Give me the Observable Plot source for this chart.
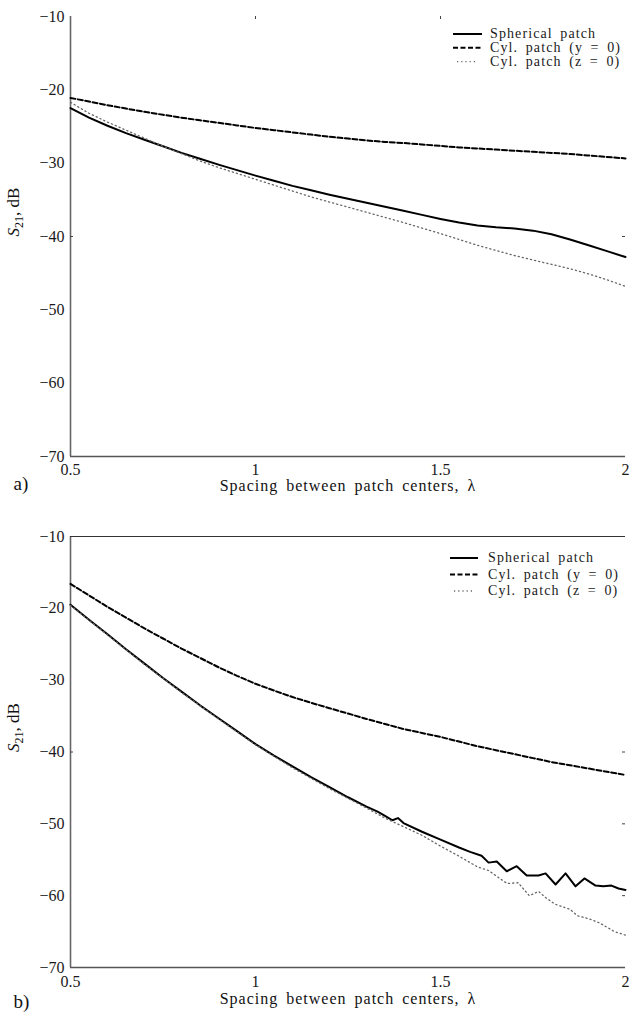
<!DOCTYPE html>
<html><head><meta charset="utf-8">
<script src="https://cdn.jsdelivr.net/npm/d3@7"></script>
<script src="https://cdn.jsdelivr.net/npm/@observablehq/plot@0.6"></script>
<style>
body{margin:0;background:#fff;}
#wrap{position:relative;width:642px;}
.panel{position:relative;width:642px;}
.panel svg.leg{position:absolute;left:0;top:0;pointer-events:none;overflow:visible;}
</style></head><body><div id="wrap"></div>
<script>
// ---- shared text / ticks ----
const xTicks = [0.5, 1, 1.5, 2];
const yTicks = [-70, -60, -50, -40, -30, -20, -10];
const xDomain = [0.5, 2];
const yDomain = [-70, -10];
const seriesNames = ["Spherical patch", "Cyl. patch (y = 0)", "Cyl. patch (z = 0)"];
const xLabel = "Spacing between patch centers, λ";
const yLabel = "S21, dB";
const panelLabels = ["a)", "b)"];

// ---- panel a ----
const aGrid = [0.5,0.55,0.6,0.65,0.7,0.75,0.8,0.85,0.9,0.95,1.0,1.05,1.1,1.15,1.2,1.25,1.3,1.35,1.4,1.45,1.5,1.55,1.6,1.65,1.7,1.75,1.8,1.85,1.9,1.95,2.0];
const aSpherical = [-22.5,-23.8,-24.9,-25.9,-26.8,-27.7,-28.6,-29.4,-30.2,-30.95,-31.7,-32.4,-33.1,-33.7,-34.3,-34.85,-35.4,-35.95,-36.5,-37.05,-37.6,-38.1,-38.5,-38.75,-38.9,-39.2,-39.7,-40.4,-41.2,-42.0,-42.8];
const aCylY = [-21.1,-21.6,-22.1,-22.55,-23.0,-23.4,-23.8,-24.15,-24.5,-24.85,-25.2,-25.5,-25.8,-26.1,-26.4,-26.65,-26.9,-27.1,-27.25,-27.45,-27.65,-27.85,-28.0,-28.15,-28.3,-28.45,-28.6,-28.75,-28.95,-29.15,-29.35];
const aCylZ = [-21.7,-23.2,-24.4,-25.5,-26.6,-27.7,-28.7,-29.7,-30.6,-31.4,-32.2,-33.0,-33.8,-34.6,-35.3,-36.0,-36.7,-37.4,-38.1,-38.85,-39.6,-40.4,-41.2,-41.9,-42.6,-43.2,-43.8,-44.4,-45.1,-45.9,-46.8];

// ---- panel b ----
const bGrid = [0.5,0.55,0.6,0.65,0.7,0.75,0.8,0.85,0.9,0.95,1.0,1.05,1.1,1.15,1.2,1.25,1.3,1.35,1.4,1.45,1.5,1.55,1.6,1.65,1.7,1.75,1.8,1.85,1.9,1.95,2.0];
const bCylY = [-16.6,-18.2,-19.8,-21.3,-22.8,-24.2,-25.6,-26.9,-28.2,-29.4,-30.5,-31.45,-32.35,-33.15,-33.9,-34.65,-35.4,-36.1,-36.8,-37.35,-37.9,-38.55,-39.2,-39.75,-40.3,-40.85,-41.4,-41.85,-42.3,-42.75,-43.2];
const bSphX = [0.5,0.55,0.6,0.65,0.7,0.75,0.8,0.85,0.9,0.95,1.0,1.05,1.1,1.15,1.2,1.25,1.3,1.33,1.35,1.37,1.385,1.4,1.45,1.5,1.55,1.58,1.611,1.63,1.652,1.679,1.706,1.733,1.765,1.784,1.811,1.838,1.865,1.889,1.919,1.94,1.962,1.981,2.0];
const bSphY = [-19.5,-21.6,-23.6,-25.7,-27.7,-29.7,-31.6,-33.5,-35.3,-37.1,-38.9,-40.5,-42.0,-43.5,-44.9,-46.3,-47.6,-48.3,-48.9,-49.5,-49.2,-49.9,-51.1,-52.2,-53.3,-53.9,-54.45,-55.4,-55.25,-56.6,-55.9,-57.2,-57.2,-56.9,-58.45,-56.9,-58.7,-57.6,-58.6,-58.7,-58.6,-59.0,-59.2];
const bCylZX = [0.5,0.6,0.7,0.8,0.9,1.0,1.1,1.2,1.3,1.35,1.4,1.45,1.5,1.55,1.58,1.6,1.63,1.66,1.68,1.71,1.74,1.765,1.785,1.81,1.85,1.87,1.9,1.93,1.97,2.0];
const bCylZY = [-19.6,-23.7,-27.8,-31.7,-35.4,-39.0,-42.2,-45.1,-47.8,-49.2,-50.4,-51.6,-53.1,-54.5,-55.4,-56.0,-56.5,-57.6,-58.3,-58.2,-60.0,-59.4,-60.3,-61.2,-61.9,-62.8,-63.2,-63.8,-65.0,-65.5];

// ---- styles ----
const W = 642, ML = 70, MR = 17;
const FONT = "'Liberation Serif','Times New Roman',serif";
const lineStyles = [
  {stroke: "#000", strokeWidth: 2, strokeDasharray: null},
  {stroke: "#000", strokeWidth: 2, strokeDasharray: "5,2.5"},
  {stroke: "#666", strokeWidth: 1.3, strokeDasharray: "1.2,3"}
];
const fmt = d => (d < 0 ? "\u2212" : "") + Math.abs(d);

function rowsOf(xs, ys) { return xs.map((x, i) => ({x, y: ys[i]})); }

function panel(cfg) {
  const fw = W - ML - MR;
  const fh = cfg.height - cfg.marginTop - cfg.marginBottom;
  const marks = [
    Plot.ruleX([xDomain[0]], {stroke: "#666", strokeWidth: 1.6}),
    Plot.ruleY([yDomain[0]], {stroke: "#555", strokeWidth: 1.6})
  ];
  if (cfg.topLine) marks.push(Plot.ruleY([yDomain[1]], {stroke: "#333", strokeWidth: 1.2}));
  marks.push(Plot.tickY(cfg.leftTicks, {y: d => d, stroke: "#444", insetRight: fw - 3}));
  marks.push(Plot.tickY(cfg.rightTicks, {y: d => d, stroke: "#444", insetLeft: fw - 3}));
  marks.push(Plot.tickX(cfg.topTicks, {x: d => d, stroke: "#444", insetBottom: fh - 3}));
  marks.push(Plot.axisY(yTicks, {anchor: "left", tickSize: 0, tickPadding: 6, tickFormat: fmt, label: null, fontSize: 16}));
  marks.push(Plot.axisX(xTicks, {anchor: "bottom", tickSize: 0, tickPadding: cfg.xTickPad, tickFormat: d => String(d), label: null, fontSize: 16}));
  cfg.series.forEach((s, i) => {
    marks.push(Plot.line(rowsOf(s[0], s[1]), {x: "x", y: "y", ...lineStyles[i], strokeLinejoin: "round"}));
  });
  marks.push(Plot.text([xLabel], {frameAnchor: "bottom", dy: cfg.xLabelDy, fontSize: 16, fill: "#111"}));
  marks.push(Plot.text([yLabel], {frameAnchor: "left", dx: -57, rotate: -90, fontSize: 17, fill: "#111"}));
  marks.push(Plot.text([cfg.label], {frameAnchor: "bottom-left", dx: -57, dy: cfg.panelDy, fontSize: 19, textAnchor: "start", fill: "#111"}));

  const svg = Plot.plot({
    width: W, height: cfg.height,
    marginLeft: ML, marginRight: MR, marginTop: cfg.marginTop, marginBottom: cfg.marginBottom,
    style: {fontFamily: FONT, fontSize: "16px", color: "#1a1a1a", background: "transparent", overflow: "visible"},
    x: {domain: xDomain},
    y: {domain: yDomain},
    marks
  });
  svg.querySelectorAll("text").forEach(t => {
    if (t.textContent === yLabel) {
      t.innerHTML = '<tspan font-style="italic">S</tspan><tspan font-size="12" dy="4">21</tspan><tspan dy="-4">, dB</tspan>';
    } else if (t.textContent === xLabel) {
      t.setAttribute("letter-spacing", "1");
      t.setAttribute("word-spacing", "3");
    }
  });
  const div = document.createElement("div");
  div.className = "panel";
  div.style.height = cfg.height + "px";
  div.appendChild(svg);

  // legend overlay
  const ns = "http://www.w3.org/2000/svg";
  const leg = document.createElementNS(ns, "svg");
  leg.setAttribute("class", "leg");
  leg.setAttribute("width", W);
  leg.setAttribute("height", cfg.height);
  const L = cfg.legend;
  seriesNames.forEach((name, i) => {
    const yy = L.y0 + i * L.gap;
    const ln = document.createElementNS(ns, "line");
    const st = lineStyles[i];
    ln.setAttribute("x1", L.x0); ln.setAttribute("x2", L.x1);
    ln.setAttribute("y1", yy); ln.setAttribute("y2", yy);
    ln.setAttribute("stroke", st.stroke); ln.setAttribute("stroke-width", st.strokeWidth);
    if (st.strokeDasharray) ln.setAttribute("stroke-dasharray", st.strokeDasharray);
    if (i === 2) { ln.setAttribute("x1", L.x0 + 4); ln.setAttribute("x2", L.x1 - 5); }
    leg.appendChild(ln);
    const tx = document.createElementNS(ns, "text");
    tx.setAttribute("x", L.tx); tx.setAttribute("y", yy);
    tx.setAttribute("dy", "0.32em");
    tx.setAttribute("font-family", FONT);
    tx.setAttribute("font-size", "14");
    tx.setAttribute("letter-spacing", "1.1");
    tx.setAttribute("word-spacing", "3");
    tx.setAttribute("fill", "#1a1a1a");
    tx.textContent = name;
    leg.appendChild(tx);
  });
  div.appendChild(leg);
  return div;
}

const wrap = document.getElementById("wrap");
wrap.appendChild(panel({
  height: 505, marginTop: 16, marginBottom: 49, topLine: false, xTickPad: 7, xLabelDy: 34, panelDy: 33,
  leftTicks: [-40], rightTicks: [-40], topTicks: [1, 1.5],
  series: [[aGrid, aSpherical], [aGrid, aCylY], [aGrid, aCylZ]],
  label: panelLabels[0],
  legend: {x0: 453, x1: 482, tx: 490, y0: 34, gap: 13.8}
}));
wrap.appendChild(panel({
  height: 522, marginTop: 31, marginBottom: 60, topLine: true, xTickPad: 8, xLabelDy: 36, panelDy: 40,
  leftTicks: [-40], rightTicks: [-40, -50, -60], topTicks: [],
  series: [[bSphX, bSphY], [bGrid, bCylY], [bCylZX, bCylZY]],
  label: panelLabels[1],
  legend: {x0: 450, x1: 478, tx: 488, y0: 53, gap: 16.5}
}));
</script>
</body></html>
